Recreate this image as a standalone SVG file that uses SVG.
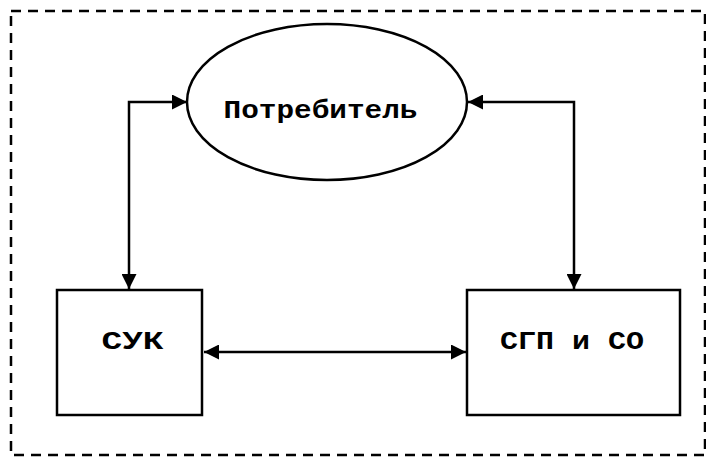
<svg xmlns="http://www.w3.org/2000/svg" width="706" height="457" viewBox="0 0 706 457">
<style>
.ln{fill:none;stroke:#000;stroke-width:2.5}
.nd{fill:#fff;stroke:#000;stroke-width:2.5}
.tx{font-family:"Liberation Mono","Courier New",monospace;font-weight:bold;font-size:26px;fill:#000}
</style>
<defs>
<marker id="ah" viewBox="0 0 15 15" refX="15" refY="7.5" markerWidth="15" markerHeight="15" markerUnits="userSpaceOnUse" orient="auto-start-reverse">
<path d="M0,0 L15,7.5 L0,15 Z" fill="#000"/>
</marker>
</defs>
<rect x="11" y="11" width="694" height="444" fill="none" stroke="#000" stroke-width="2.5" stroke-dasharray="10 7"/>
<g id="connectors">
<path class="ln" d="M187,102 H129 V289" marker-start="url(#ah)" marker-end="url(#ah)"/>
<path class="ln" d="M468,102 H574 V289" marker-start="url(#ah)" marker-end="url(#ah)"/>
<path class="ln" d="M204,352 H466" marker-start="url(#ah)" marker-end="url(#ah)"/>
</g>
<g id="consumer">
<ellipse class="nd" cx="327" cy="102" rx="140" ry="78"/>
<text class="tx" x="320.5" y="118" text-anchor="middle" textLength="194" lengthAdjust="spacingAndGlyphs">Потребитель</text>
</g>
<g id="suk">
<rect class="nd" x="57" y="290" width="145" height="125"/>
<text class="tx" x="132.5" y="349" text-anchor="middle" textLength="62" lengthAdjust="spacingAndGlyphs">СУК</text>
</g>
<g id="sgp">
<rect class="nd" x="467" y="290" width="213" height="125"/>
<text class="tx" x="572" y="349" text-anchor="middle" textLength="144" lengthAdjust="spacingAndGlyphs">СГП и СО</text>
</g>
</svg>
